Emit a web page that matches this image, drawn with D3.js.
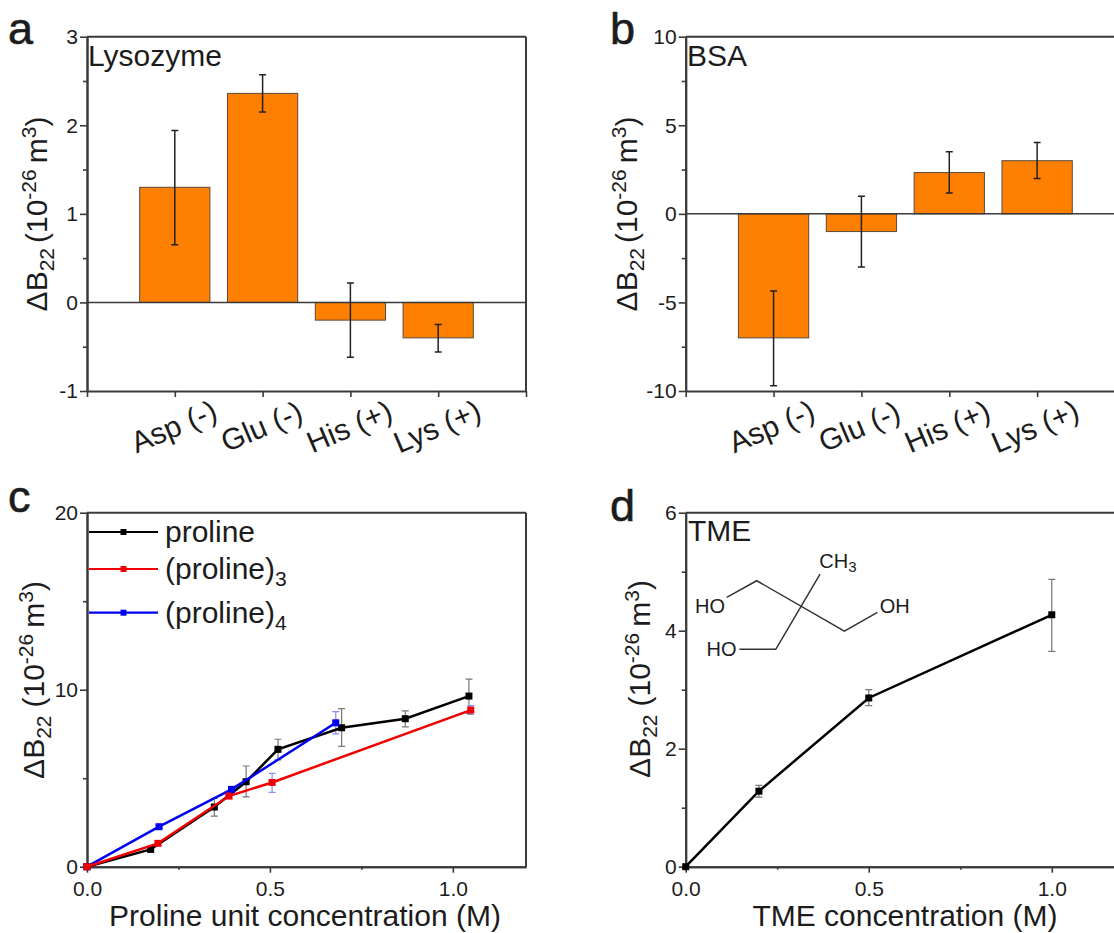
<!DOCTYPE html>
<html><head><meta charset="utf-8">
<script src="https://cdn.jsdelivr.net/npm/d3@7"></script>
<style>html,body{margin:0;padding:0;background:#fff}svg{display:block}text{font-family:"Liberation Sans",Arial,sans-serif;fill:#1c1c1c}</style>
</head><body><svg id="c" width="1114" height="933"></svg>
<script>
const categories=["Asp (-)","Glu (-)","His (+)","Lys (+)"];
const lysozymeValues=[1.3,2.36,-0.2,-0.4];
const lysozymeHigh=[1.94,2.57,0.22,-0.25];
const lysozymeLow=[0.65,2.15,-0.62,-0.56];
const bsaValues=[-7,-1,2.33,3];
const bsaHigh=[-4.35,1,3.5,4.03];
const bsaLow=[-9.7,-3,1.17,2];
const prolineX=[0,0.174,0.348,0.435,0.522,0.696,0.87,1.044];
const prolineY=[0,0.98,3.37,4.8,6.63,7.85,8.36,9.64];
const prolineHigh=[0,1.13,3.86,5.69,7.2,8.93,8.8,10.6];
const prolineLow=[0,0.83,2.86,3.95,6.03,6.8,7.9,8.66];
const tripeptideX=[0,0.194,0.388,0.506,1.049];
const tripeptideY=[0,1.32,3.99,4.76,8.85];
const tripeptideHigh=[0,1.45,4.1,5.27,9.1];
const tripeptideLow=[0,1.2,3.88,4.2,8.6];
const tetrapeptideX=[0,0.197,0.395,0.68];
const tetrapeptideY=[0,2.26,4.37,8.13];
const tetrapeptideHigh=[0,2.36,4.47,8.76];
const tetrapeptideLow=[0,2.16,4.27,7.5];
const tmeX=[0,0.2,0.5,1];
const tmeY=[0,1.28,2.86,4.27];
const tmeHigh=[0,1.38,3,4.87];
const tmeLow=[0,1.18,2.73,3.65];
const moleculeChainA=[[0.112,4.565],[0.194,4.847],[0.4335,3.994],[0.5237,4.31]];
const moleculeChainB=[[0.367,4.96],[0.246,3.684],[0.1466,3.684]];

const svg=d3.select("#c");
const AX="#3a3a3a",ORANGE="#ff7f00",AXW=2;
function frame(o){
  const g=svg.append("g");
  const x=d3.scaleLinear().domain(o.xd).range([o.l,o.r]);
  const y=d3.scaleLinear().domain(o.yd).range([o.b,o.t]);
  const xa=d3.axisBottom(x).tickValues(o.xMajor).tickFormat(o.xFmt||"").tickSize(6).tickSizeOuter(0);
  const ya=d3.axisLeft(y).tickValues(o.yMajor).tickFormat(d3.format("d")).tickSize(7).tickSizeOuter(0);
  const gx=g.append("g").attr("transform",`translate(0,${o.b})`).call(xa);
  const gy=g.append("g").attr("transform",`translate(${o.l},0)`).call(ya);
  if(o.xMinor) g.append("g").attr("transform",`translate(0,${o.b})`).call(d3.axisBottom(x).tickValues(o.xMinor).tickFormat("").tickSize(3).tickSizeOuter(0));
  g.append("g").attr("transform",`translate(${o.l},0)`).call(d3.axisLeft(y).tickValues(o.yMinor).tickFormat("").tickSize(4).tickSizeOuter(0));
  g.selectAll(".domain").attr("stroke",AX).attr("stroke-width",AXW);
  g.selectAll(".tick line").attr("stroke",AX).attr("stroke-width",1.6);
  g.selectAll(".tick text").attr("font-size",21).attr("font-family",'"Liberation Sans"').attr("fill","#1c1c1c");
  gx.selectAll(".tick text").attr("dy","0.95em");
  gy.selectAll(".tick text").attr("x",-9).text(d=>String(d).replace("\u2212","-"));
  g.append("line").attr("x1",o.l).attr("x2",o.r).attr("y1",o.t).attr("y2",o.t).attr("stroke",AX).attr("stroke-width",AXW);
  g.append("line").attr("x1",o.r).attr("x2",o.r).attr("y1",o.t).attr("y2",o.b).attr("stroke",AX).attr("stroke-width",AXW);
  const t=g.append("text").attr("transform",`translate(${o.tx},${o.ty}) rotate(-90)`).attr("text-anchor","middle").attr("font-size",30);
  t.append("tspan").text("ΔB");
  t.append("tspan").attr("font-size",21).attr("dy",7).text("22");
  t.append("tspan").attr("dy",-7).attr("dx",o.gap).text("(10");
  t.append("tspan").attr("font-size",21).attr("dy",-11).text("-26");
  t.append("tspan").attr("dy",11).attr("dx",6).text("m");
  t.append("tspan").attr("font-size",21).attr("dy",-11).text("3");
  t.append("tspan").attr("dy",11).text(")");
  g.append("text").attr("x",o.lx).attr("y",o.ly).attr("font-size",45).attr("stroke","#1c1c1c").attr("stroke-width",0.6).text(o.letter);
  if(o.xTitle) g.append("text").attr("x",o.xtx).attr("y",926).attr("text-anchor","middle").attr("font-size",30).text(o.xTitle);
  return {g,x,y};
}
function barPanel(o,vals,hi,lo){
  const f=frame({...o,xd:[0,5],xMajor:[0,1,2,3,4,5]});
  const {g,x,y}=f;
  const w=x(0.8)-x(0);
  g.selectAll("rect.bar").data(vals).join("rect").attr("class","bar")
    .attr("x",(d,i)=>x(i+1)-w/2).attr("width",w)
    .attr("y",d=>y(Math.max(d,0))).attr("height",d=>Math.abs(y(d)-y(0)))
    .attr("fill",ORANGE).attr("stroke","#5a4a3a").attr("stroke-width",1);
  g.append("line").attr("x1",o.l).attr("x2",o.r).attr("y1",y(0)).attr("y2",y(0)).attr("stroke",AX).attr("stroke-width",1.5);
  errs(g,vals.map((d,i)=>i+1),hi,lo,x,y,"#222",1.5,3.5);
  categories.forEach((c,i)=>{
    g.append("text").attr("transform",`translate(${x(i+1)+o.cdx},${o.cy}) rotate(-23)`)
      .attr("text-anchor","middle").attr("font-size",30).text(c);
  });
  g.append("text").attr("x",o.nx).attr("y",66).attr("font-size",30).text(o.name);
}
function errs(g,xs,hi,lo,x,y,color,w,cap){
  xs.forEach((v,i)=>{
    if(hi[i]===lo[i]) return;
    const p=d3.path();
    p.moveTo(x(v),y(hi[i]));p.lineTo(x(v),y(lo[i]));
    p.moveTo(x(v)-cap,y(hi[i]));p.lineTo(x(v)+cap,y(hi[i]));
    p.moveTo(x(v)-cap,y(lo[i]));p.lineTo(x(v)+cap,y(lo[i]));
    g.append("path").attr("d",p.toString()).attr("fill","none").attr("stroke",color).attr("stroke-width",w);
  });
}
function series(g,xs,ys,x,y,color,size){
  const line=d3.line().x(d=>x(d[0])).y(d=>y(d[1]));
  const pts=xs.map((v,i)=>[v,ys[i]]);
  g.append("path").attr("d",line(pts)).attr("fill","none").attr("stroke",color).attr("stroke-width",2.5);
  g.selectAll(null).data(pts).join("rect").attr("x",d=>x(d[0])-size/2).attr("y",d=>y(d[1])-size/2)
    .attr("width",size).attr("height",size).attr("fill",color);
}
barPanel({l:87,r:526,t:36.7,b:391,yd:[-1,3],yMajor:[-1,0,1,2,3],yMinor:[-0.5,0.5,1.5,2.5],tx:47,ty:214,gap:5,lx:8,ly:44,letter:"a",cdx:3,cy:436,nx:88,name:"Lysozyme"},lysozymeValues,lysozymeHigh,lysozymeLow);
barPanel({l:685.7,r:1125,t:36.7,b:391,yd:[-10,10],yMajor:[-10,-5,0,5,10],yMinor:[-7.5,-2.5,2.5,7.5],tx:637,ty:214,gap:5,lx:610,ly:44,letter:"b",cdx:2,cy:436,nx:687,name:"BSA"},bsaValues,bsaHigh,bsaLow);

const c=frame({l:87,r:526,t:512.7,b:866.7,xd:[0,1.2],yd:[0,20],xMajor:[0,0.5,1],xMinor:[0.25,0.75],xFmt:d3.format(".1f"),yMajor:[0,10,20],yMinor:[5,15],tx:44,ty:680,gap:8,lx:8,ly:512,letter:"c",xTitle:"Proline unit concentration (M)",xtx:305});
errs(c.g,prolineX,prolineHigh,prolineLow,c.x,c.y,"#777",1.2,3.5);
errs(c.g,tripeptideX,tripeptideHigh,tripeptideLow,c.x,c.y,"#8c8cf5",1.2,3.5);
errs(c.g,tetrapeptideX,tetrapeptideHigh,tetrapeptideLow,c.x,c.y,"#8c8cf5",1.2,3.5);
series(c.g,prolineX,prolineY,c.x,c.y,"#000",7);
series(c.g,tetrapeptideX,tetrapeptideY,c.x,c.y,"#0000f0",7);
series(c.g,tripeptideX,tripeptideY,c.x,c.y,"#f00000",7);
[["proline","#000",null,532,542],["(proline)","#f00000","3",569,579],["(proline)","#0000f0","4",612.7,623]].forEach(r=>{
  c.g.append("line").attr("x1",89).attr("x2",158).attr("y1",r[3]).attr("y2",r[3]).attr("stroke",r[1]).attr("stroke-width",2.2);
  c.g.append("rect").attr("x",120.5).attr("y",r[3]-3).attr("width",6).attr("height",6).attr("fill",r[1]);
  const t=c.g.append("text").attr("x",165).attr("y",r[4]).attr("font-size",30).text(r[0]);
  if(r[2]) t.append("tspan").attr("font-size",21).attr("dy",7).text(r[2]);
});

const d=frame({l:685.7,r:1125,t:512.7,b:866.7,xd:[0,1.2],yd:[0,6],xMajor:[0,0.5,1],xMinor:[0.25,0.75],xFmt:d3.format(".1f"),yMajor:[0,2,4,6],yMinor:[1,3,5],tx:650,ty:679,gap:8,lx:610,ly:521,letter:"d",xTitle:"TME concentration (M)",xtx:905});
errs(d.g,tmeX,tmeHigh,tmeLow,d.x,d.y,"#777",1.2,3.5);
series(d.g,tmeX,tmeY,d.x,d.y,"#000",7);
d.g.append("text").attr("x",688).attr("y",541).attr("font-size",30).text("TME");
const mol=d3.line().x(p=>d.x(p[0])).y(p=>d.y(p[1]));
[moleculeChainA,moleculeChainB].forEach(ch=>d.g.append("path").attr("d",mol(ch)).attr("fill","none").attr("stroke","#333").attr("stroke-width",1.5));
[["HO",0.0255,4.42],["OH",0.53,4.42],["HO",0.057,3.69]].forEach(m=>{
  d.g.append("text").attr("x",d.x(m[1])).attr("y",d.y(m[2])).attr("dy","0.36em").attr("font-size",20).text(m[0]);
});
const ch3=d.g.append("text").attr("x",d.x(0.365)).attr("y",d.y(5.07)).attr("font-size",20).text("CH");
ch3.append("tspan").attr("font-size",15).attr("dy",4).text("3");
</script></body></html>
